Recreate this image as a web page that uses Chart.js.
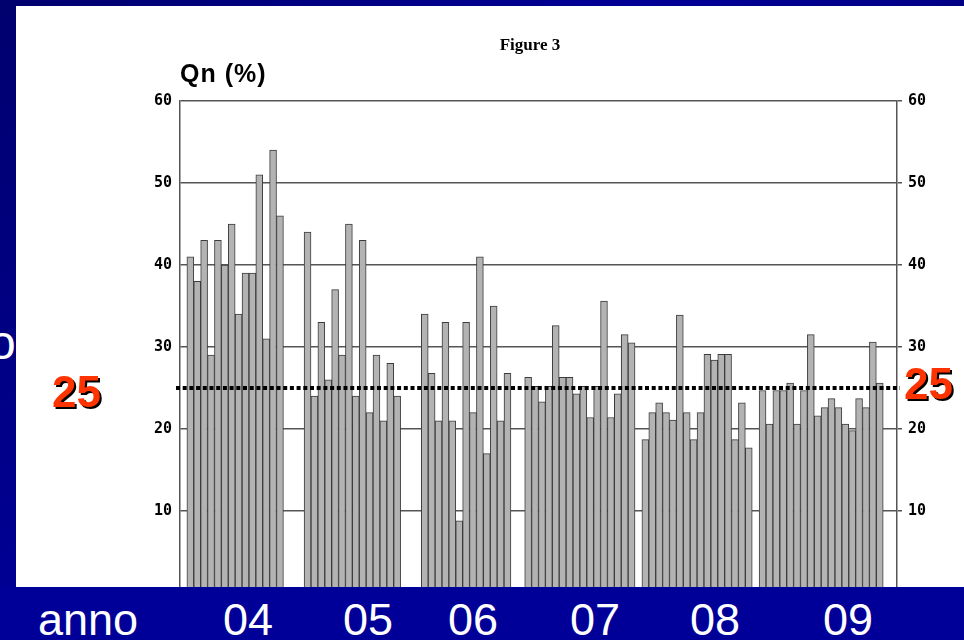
<!DOCTYPE html>
<html>
<head>
<meta charset="utf-8">
<script src="https://cdn.jsdelivr.net/npm/chart.js@4.4.1/dist/chart.umd.min.js"></script>
<style>
  html, body { margin: 0; padding: 0; }
  body {
    width: 964px; height: 640px; position: relative; overflow: hidden;
    background: linear-gradient(135deg, #00006e 0%, #000096 40%, #00007e 70%, #00009a 100%);
    font-family: "Liberation Sans", Arial, sans-serif;
  }
  .txt { position: absolute; line-height: 1; white-space: nowrap; }
  #panel { position: absolute; left: 16px; top: 6px; width: 948px; height: 581px; background: #fff; z-index: 1; }
  #chart { position: absolute; left: 0; top: 0; z-index: 2; }
  #band { position: absolute; left: 0; top: 587px; width: 964px; height: 53px; background: #000099; z-index: 3; }
  .anno { color: #fff; font-size: 45px; top: 597px; transform: translateX(-50%); z-index: 4; }
  .soglia { color: #ff3300; font-size: 44px; font-weight: bold; text-shadow: 2px 2px 0 #000; z-index: 4; }
</style>
</head>
<body>
<div class="txt" style="left:-11px; top:319px; font-size:48px; color:#fff; z-index:0">o</div>
<div id="panel"></div>
<div class="txt" style="left:530px; top:36px; transform:translateX(-50%); font-family:'Liberation Serif',serif; font-weight:bold; font-size:17px; z-index:4">Figure 3</div>
<div class="txt" style="left:180px; top:61px; font-weight:bold; font-size:25px; letter-spacing:1px; z-index:4">Qn (%)</div>
<canvas id="chart" width="964" height="640"></canvas>
<div id="band"></div>
<div class="txt anno" style="left:88px">anno</div>
<div class="txt anno" style="left:248px">04</div>
<div class="txt anno" style="left:368px">05</div>
<div class="txt anno" style="left:473px">06</div>
<div class="txt anno" style="left:595px">07</div>
<div class="txt anno" style="left:715px">08</div>
<div class="txt anno" style="left:848px">09</div>
<div class="txt soglia" style="left:52px; top:370px">25</div>
<div class="txt soglia" style="left:904px; top:362px">25</div>

<script>
// valori Qn (%) per anno
var anni = ['04', '05', '06', '07', '08', '09'];
var q04 = [41, 38, 43, 29, 43, 40, 45, 34, 39, 39, 51, 31, 54, 46];
var q05 = [44, 24, 33, 26, 37, 29, 45, 24, 43, 22, 29, 21, 28, 24];
var q06 = [34, 26.8, 21, 33, 21, 8.8, 33, 22, 41, 17, 35, 21, 26.8];
var q07 = [26.3, 25.2, 23.3, 25.2, 32.6, 26.3, 26.3, 24.3, 25.2, 21.4, 25.2, 35.6, 21.4, 24.3, 31.5, 30.5];
var q08 = [18.7, 22.0, 23.2, 22.0, 21.1, 33.9, 22.0, 18.7, 22.0, 29.1, 28.4, 29.1, 29.1, 18.7, 23.2, 17.7];
var q09 = [24.7, 20.6, 24.7, 24.7, 25.6, 20.6, 24.7, 31.5, 21.6, 22.6, 23.7, 22.6, 20.6, 19.8, 23.7, 22.6, 30.6, 25.6];
var soglia = 25;
var yTicks = [10, 20, 30, 40, 50, 60];

// spazi vuoti (in numero di barre) prima di ogni anno e in fondo
var vuotiPrima = [1, 3, 3, 2, 1, 1];
var vuotiFine = 2;

var serie = [q04, q05, q06, q07, q08, q09];
var etichette = [];
var valori = [];
var k = 0;
for (var a = 0; a < serie.length; a++) {
  for (var g = 0; g < vuotiPrima[a]; g++) { etichette.push('v' + (k++)); valori.push(null); }
  for (var i = 0; i < serie[a].length; i++) { etichette.push(anni[a] + '-' + (i + 1)); valori.push(serie[a][i]); }
}
for (var g = 0; g < vuotiFine; g++) { etichette.push('v' + (k++)); valori.push(null); }

// linea tratteggiata della soglia
var lineaSoglia = {
  id: 'lineaSoglia',
  afterDatasetsDraw: function (chart) {
    var ctx = chart.ctx, area = chart.chartArea;
    var y = chart.scales.y.getPixelForValue(soglia);
    ctx.save();
    ctx.strokeStyle = '#000';
    ctx.lineWidth = 4;
    ctx.setLineDash([4, 2.7]);
    ctx.beginPath();
    ctx.moveTo(area.left - 4, y);
    ctx.lineTo(area.right + 3, y);
    ctx.stroke();
    ctx.restore();
  }
};

var tickFont = { family: 'DejaVu Sans Mono', size: 15, weight: 'bold' };
function soloTick(v) { return yTicks.indexOf(v) >= 0 ? String(v) : ''; }

var chart = new Chart(document.getElementById('chart'), {
  type: 'bar',
  data: {
    labels: etichette,
    datasets: [{
      data: valori,
      backgroundColor: '#b3b3b3',
      borderColor: '#3c3c3c',
      borderWidth: 1,
      barPercentage: 1,
      categoryPercentage: 1
    }]
  },
  options: {
    responsive: false,
    devicePixelRatio: 1,
    animation: false,
    layout: { padding: { left: 0, right: 0, top: 101, bottom: 47 } },
    plugins: { legend: { display: false }, tooltip: { enabled: false }, title: { display: false } },
    scales: {
      x: { display: false, offset: true, grid: { display: false } },
      y: {
        position: 'left', min: 0, max: 60,
        ticks: { stepSize: 10, font: tickFont, color: '#000', padding: 8, callback: soloTick },
        grid: { color: '#555', lineWidth: 1.5, drawTicks: false },
        border: { display: true, color: '#555', width: 1.5 },
        afterFit: function (s) { s.width = 180; }
      },
      y2: {
        position: 'right', min: 0, max: 60,
        ticks: { stepSize: 10, font: tickFont, color: '#000', padding: 6, callback: soloTick },
        grid: { drawOnChartArea: false, color: '#555', lineWidth: 1.5, tickLength: 5 },
        border: { display: true, color: '#555', width: 1.5 },
        afterFit: function (s) { s.width = 67; }
      }
    }
  },
  plugins: [lineaSoglia]
});
</script>
</body>
</html>
